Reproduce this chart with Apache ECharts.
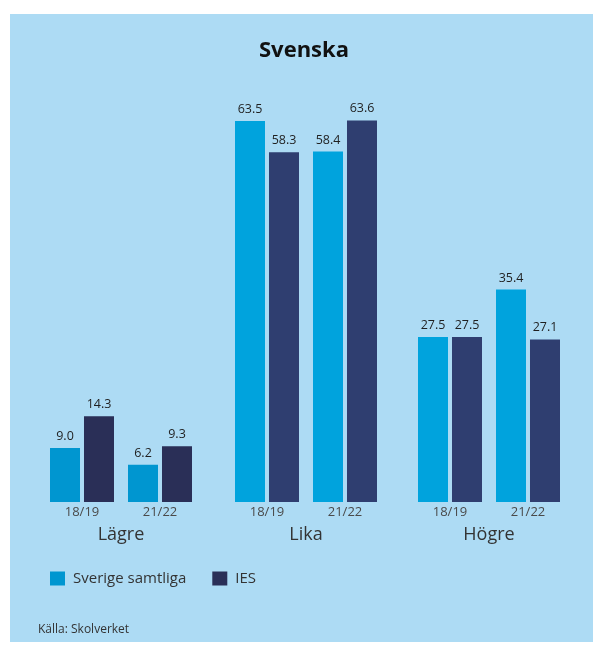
<!DOCTYPE html>
<html>
<head>
<meta charset="utf-8">
<script src="https://cdn.jsdelivr.net/npm/echarts@6/dist/echarts.min.js"></script>
<style>html,body{margin:0;padding:0;background:#fff;}#c{width:593px;height:649px;}</style>
</head>
<body>
<div id="c"></div>
<script>
const titleText = 'Svenska';
const sourceText = 'Källa: Skolverket';
const seriesNames = ['Sverige samtliga', 'IES'];
const groups = ['Lägre', 'Lika', 'Högre'];
const years = ['18/19', '21/22'];
const sverigeLagre = [9.0, 6.2];
const iesLagre = [14.3, 9.3];
const sverigeLika = [63.5, 58.4];
const iesLika = [58.3, 63.6];
const sverigeHogre = [27.5, 35.4];
const iesHogre = [27.5, 27.1];

const sverigeByGroup = [sverigeLagre, sverigeLika, sverigeHogre];
const iesByGroup = [iesLagre, iesLika, iesHogre];
const colorsCyan = ['#0096d0', '#00a3dd', '#00a3dd'];
const colorsNavy = ['#2a2f57', '#2f3e70', '#2f3e70'];
const gridLefts = [43, 228, 411];
const FONT = '"Open Sans", "Noto Sans", sans-serif';

const chart = echarts.init(document.getElementById('c'), null, {renderer: 'canvas'});

const grids = [], xAxes = [], yAxes = [], series = [];
groups.forEach((g, i) => {
  grids.push({left: gridLefts[i], width: 156, top: 82, bottom: 147, containLabel: false});
  xAxes.push({
    type: 'category', gridIndex: i, data: years,
    axisLine: {show: false}, axisTick: {show: false},
    axisLabel: {color: '#4a4a4a', fontSize: 13, fontFamily: FONT, margin: 4},
    name: g, nameLocation: 'middle', nameGap: 24,
    nameTextStyle: {color: '#333', fontSize: 18, fontFamily: FONT}
  });
  yAxes.push({type: 'value', gridIndex: i, min: 0, max: 70, show: false, splitLine: {show: false}});
  const lbl = {show: true, position: 'top', distance: 5, color: '#1f1f1f', fontSize: 12.5, fontFamily: FONT,
    formatter: p => Number(p.value).toFixed(1)};
  series.push({
    name: seriesNames[0], type: 'bar', xAxisIndex: i, yAxisIndex: i,
    data: sverigeByGroup[i], barWidth: 30, barGap: '13.33%',
    itemStyle: {color: colorsCyan[i]}, label: lbl
  });
  series.push({
    name: seriesNames[1], type: 'bar', xAxisIndex: i, yAxisIndex: i,
    data: iesByGroup[i], barWidth: 30, barGap: '13.33%',
    itemStyle: {color: colorsNavy[i]}, label: lbl
  });
});

chart.setOption({
  animation: false,
  backgroundColor: '#ffffff',
  graphic: [{
    type: 'rect', left: 10, top: 14, z: -10,
    shape: {width: 583, height: 628},
    style: {fill: '#addbf4'}
  }],
  title: [{
    text: titleText, left: 254, top: 35,
    textStyle: {color: '#111', fontSize: 22, fontWeight: 'bold', fontFamily: FONT}
  }, {
    text: sourceText, left: 33, top: 619,
    textStyle: {color: '#333', fontSize: 12, fontWeight: 'normal', fontFamily: FONT}
  }],
  legend: {
    data: seriesNames, left: 45, top: 566, itemWidth: 15, itemHeight: 14, itemGap: 26,
    icon: 'rect',
    textStyle: {color: '#333', fontSize: 15, fontFamily: FONT, padding: [0, 0, 0, 3]}
  },
  grid: grids, xAxis: xAxes, yAxis: yAxes, series: series
});
</script>
</body>
</html>
